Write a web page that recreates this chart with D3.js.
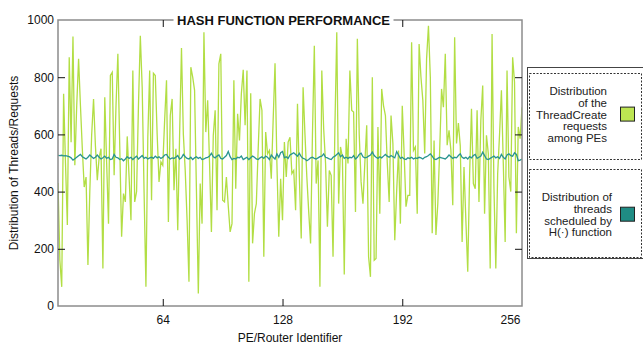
<!DOCTYPE html>
<html>
<head>
<meta charset="utf-8">
<script src="https://cdn.jsdelivr.net/npm/d3@7"></script>
<style>
  body { margin: 0; background: #fff; }
  text { font-family: "Liberation Sans", Arial, Helvetica, sans-serif; }
</style>
</head>
<body>
<div id="chart"></div>
<script>
// PE identifiers shown on the chart (first visible one is 8)
const firstPE = 8;
const lastPE = 256;

// ThreadCreate requests per PE (green)
const requests = [
  430, 160, 67, 742, 500, 283, 870, 573, 942, 492, 700, 864, 700, 550, 416, 451, 143, 400, 600, 724,
  560, 440, 520, 550, 131, 730, 500, 288, 806, 817, 457, 700, 882, 560, 242, 393, 364, 593, 450, 300,
  823, 364, 400, 700, 945, 765, 400, 67, 590, 823, 370, 814, 806, 600, 434, 504, 492, 650, 789, 294,
  666, 724, 405, 550, 265, 600, 902, 600, 474, 300, 85, 835, 800, 754, 400, 44, 428, 288, 957, 608,
  719, 500, 259, 597, 684, 335, 847, 882, 370, 364, 451, 350, 259, 288, 789, 410, 672, 579, 742, 826,
  632, 823, 85, 744, 219, 323, 358, 550, 724, 684, 172, 608, 532, 544, 445, 650, 849, 500, 242, 445,
  300, 573, 451, 573, 590, 463, 474, 335, 707, 450, 236, 765, 600, 451, 330, 219, 600, 910, 428, 509,
  67, 823, 620, 500, 277, 474, 457, 172, 626, 957, 358, 556, 521, 110, 585, 498, 823, 684, 678, 329,
  934, 600, 434, 358, 500, 632, 172, 102, 800, 160, 166, 626, 323, 759, 700, 666, 500, 364, 666, 568,
  230, 400, 544, 288, 700, 533, 347, 387, 387, 922, 544, 556, 323, 916, 800, 719, 533, 864, 980, 800,
  254, 579, 248, 358, 544, 759, 695, 882, 562, 614, 544, 352, 940, 568, 640, 560, 224, 486, 300, 120,
  460, 690, 428, 410, 684, 364, 649, 771, 323, 597, 533, 131, 951, 416, 131, 463, 600, 754, 500, 224,
  823, 451, 400, 870, 783, 254, 626, 585, 695
];

// threads scheduled by H(.) per PE (teal)
const scheduled = [
  527, 526, 527, 525, 526, 524, 522, 518, 510, 515, 520, 525, 530, 522, 518, 514, 520, 528, 522, 516,
  520, 528, 520, 514, 518, 524, 516, 520, 512, 514,
  530, 520, 518, 512, 515, 508, 514, 522, 516, 520, 512, 518, 524, 514, 520, 526, 516, 520, 514, 518,
  520, 516, 524, 518, 522, 516, 520, 528, 530, 520, 514, 518,
  516, 520, 526, 514, 518, 530, 522, 516, 514, 520, 512, 518, 522, 516, 520, 512, 514, 518, 520, 524,
  534, 522, 518, 524, 528, 516, 514, 520, 526, 540, 522,
  512, 516, 514, 520, 518, 524, 512, 516, 520, 512, 518, 524, 520, 514, 512, 518, 522, 516, 524, 520,
  512, 528, 520, 514, 532, 520, 536, 540, 518, 522, 516,
  528, 532, 536, 530, 524, 534, 522, 516, 514, 508, 512, 518, 520, 516, 514, 518, 522, 524, 532, 520,
  518, 514, 512, 520, 524, 530, 536, 522, 528, 516, 520,
  516, 520, 518, 526, 514, 520, 530, 534, 522, 518, 520, 524, 528, 538, 526, 520, 516, 522, 518, 524,
  530, 524, 520, 526, 522, 518, 540, 528, 516, 520,
  514, 512, 518, 516, 520, 514, 518, 516, 520, 518, 514, 520, 522, 526, 532, 524, 514, 512, 516, 520,
  518, 516, 514, 520, 528, 522, 516, 520, 518, 526, 532, 520,
  516, 520, 514, 522, 518, 526, 530, 516, 520, 524, 538, 526, 514, 512, 516, 520, 524, 518, 522, 516,
  530, 520, 514, 528, 532, 526, 524, 536, 530, 508, 510, 514
];

const xTicks = [64, 128, 192, 256];
const yTicks = [0, 200, 400, 600, 800, 1000];

const legendItems = [
  { lines: ['Distribution', 'of the', 'ThreadCreate', 'requests', 'among PEs'], color: '#bde552' },
  { lines: ['Distribution of', 'threads', 'scheduled by', 'H(\u00b7) function'], color: '#1f8c84' }
];

const pes = d3.range(firstPE, lastPE + 1);

// set the dimensions and margins of the graph
const W = 643, H = 344;
const margin = { top: 20, right: 121, bottom: 38, left: 58 };
const width = W - margin.left - margin.right;
const height = H - margin.top - margin.bottom;

const root = d3.select('#chart')
  .append('svg')
  .attr('width', W)
  .attr('height', H);

const svg = root.append('g')
  .attr('transform', `translate(${margin.left},${margin.top})`);

const xScale = d3.scaleLinear().domain([firstPE, lastPE]).range([0, width]);
const yScale = d3.scaleLinear().domain([0, 1000]).range([height, 0]);

svg.append('defs').append('clipPath').attr('id', 'clip')
  .append('rect').attr('width', width).attr('height', height);

// lines
const line = d3.line()
  .x((d, i) => xScale(pes[i]))
  .y(d => yScale(d));

svg.append('path')
  .datum(requests)
  .attr('clip-path', 'url(#clip)')
  .attr('fill', 'none')
  .attr('stroke', '#b2de44')
  .attr('stroke-width', 1.3)
  .attr('d', line);

svg.append('path')
  .datum(scheduled)
  .attr('fill', 'none')
  .attr('stroke', '#2a9590')
  .attr('stroke-width', 1.3)
  .attr('d', line);

// frame
svg.append('rect')
  .attr('width', width)
  .attr('height', height)
  .attr('fill', 'none')
  .attr('stroke', '#8c8c8c')
  .attr('stroke-width', 1.5);

// axes with inward ticks on all four sides
function styleAxis(g) {
  g.select('.domain').remove();
  g.selectAll('line').attr('stroke', '#111').attr('stroke-width', 1);
  g.selectAll('text').attr('font-size', '12px').attr('fill', '#111');
}

const inner = yTicks.filter(v => v > 0 && v < 1000);

svg.append('g')
  .call(d3.axisLeft(yScale).tickValues(yTicks).tickFormat(d3.format('d'))
    .tickSizeInner(-7).tickSizeOuter(0).tickPadding(4))
  .call(styleAxis)
  .call(g => g.selectAll('.tick').filter(d => !inner.includes(d)).select('line').remove());

svg.append('g')
  .attr('transform', `translate(${width},0)`)
  .call(d3.axisRight(yScale).tickValues(inner).tickSizeInner(-7).tickSizeOuter(0).tickFormat(''))
  .call(styleAxis);

const bottom = svg.append('g')
  .attr('transform', `translate(0,${height})`)
  .call(d3.axisBottom(xScale).tickValues(xTicks).tickSizeInner(-7).tickSizeOuter(0).tickPadding(9))
  .call(styleAxis);
bottom.selectAll('.tick').filter(d => d === lastPE).select('line').remove();
bottom.selectAll('.tick').filter(d => d === lastPE).select('text').attr('x', -12);

svg.append('g')
  .call(d3.axisTop(xScale).tickValues(xTicks.filter(v => v < lastPE)).tickSizeInner(-7).tickSizeOuter(0).tickFormat(''))
  .call(styleAxis);

// title sitting on the top border
const titleX = xScale(128) + 1;
svg.append('rect')
  .attr('x', titleX - 110)
  .attr('y', -8)
  .attr('width', 220)
  .attr('height', 16)
  .attr('fill', '#fff');
svg.append('text')
  .attr('x', titleX)
  .attr('y', 4.5)
  .attr('text-anchor', 'middle')
  .attr('font-size', '13px')
  .attr('font-weight', 'bold')
  .attr('fill', '#111')
  .attr('textLength', 213)
  .attr('lengthAdjust', 'spacingAndGlyphs')
  .text('HASH FUNCTION PERFORMANCE');

// axis titles
svg.append('text')
  .attr('x', width / 2)
  .attr('y', height + 36)
  .attr('text-anchor', 'middle')
  .attr('font-size', '12px')
  .attr('fill', '#111')
  .text('PE/Router Identifier');

svg.append('text')
  .attr('transform', `translate(${-40},${height / 2}) rotate(-90)`)
  .attr('text-anchor', 'middle')
  .attr('font-size', '12px')
  .attr('fill', '#111')
  .text('Distribution of Threads/Requests');

// legend
const legend = root.append('g');
legend.append('rect')
  .attr('x', 527.5).attr('y', 67.5)
  .attr('width', 120).attr('height', 191)
  .attr('fill', '#fff')
  .attr('stroke', '#444')
  .attr('stroke-width', 1);

const boxes = [
  { y: 73, h: 86, textRight: 607, lineY: 91 },
  { y: 169, h: 88, textRight: 612, lineY: 197 }
];

legendItems.forEach((item, k) => {
  const b = boxes[k];
  legend.append('rect')
    .attr('x', 529.5).attr('y', b.y + 0.5)
    .attr('width', 112).attr('height', b.h)
    .attr('fill', 'none')
    .attr('stroke', '#333')
    .attr('stroke-dasharray', '2,1.5');
  const t = legend.append('text')
    .attr('text-anchor', 'end')
    .attr('font-size', '11.5px')
    .attr('fill', '#222');
  item.lines.forEach((s, j) => {
    t.append('tspan')
      .attr('x', b.textRight)
      .attr('y', b.lineY + j * 11.8 + 4)
      .text(s);
  });
  const mid = b.lineY + (item.lines.length - 1) * 11.8 / 2;
  legend.append('rect')
    .attr('x', 620.5).attr('y', mid - 7.5)
    .attr('width', 14).attr('height', 14)
    .attr('fill', item.color)
    .attr('stroke', '#222')
    .attr('stroke-width', 1);
});
</script>
</body>
</html>
